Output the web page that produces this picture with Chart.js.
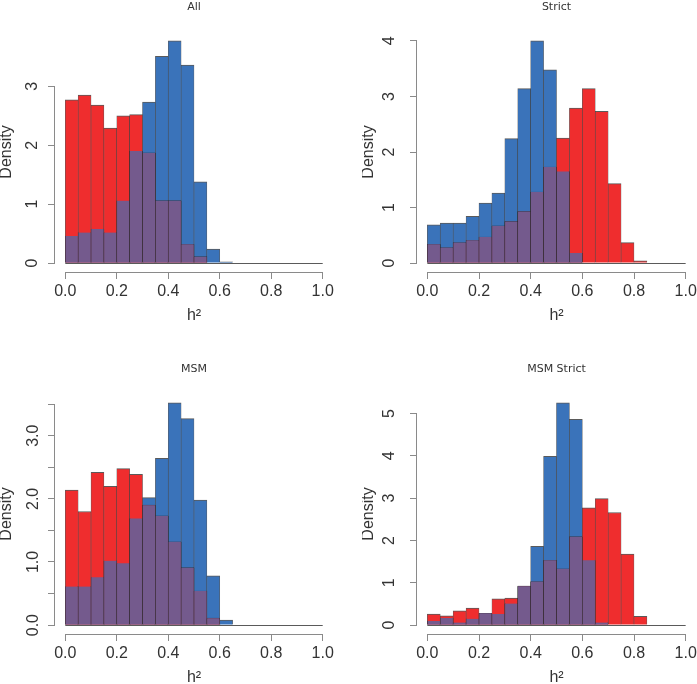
<!DOCTYPE html>
<html>
<head>
<meta charset="utf-8">
<title>h2 density histograms</title>
<script src="https://cdn.jsdelivr.net/npm/chart.js@4.4.1/dist/chart.umd.min.js"></script>
<style>
  html, body { margin: 0; padding: 0; background: #fff; }
  body { width: 697px; height: 684px; position: relative; overflow: hidden; }
  canvas { position: absolute; }
</style>
</head>
<body>
<canvas id="chartAll" width="360" height="322" style="left:0px;top:0px"></canvas>
<canvas id="chartStrict" width="360" height="322" style="left:362px;top:0px"></canvas>
<canvas id="chartMsm" width="360" height="322" style="left:0px;top:362px"></canvas>
<canvas id="chartMsmStrict" width="360" height="322" style="left:362px;top:362px"></canvas>
<script>
// bin mid-points of h^2 (bins of width 0.05)
const binMids = [0.025, 0.075, 0.125, 0.175, 0.225, 0.275, 0.325, 0.375, 0.425, 0.475,
                 0.525, 0.575, 0.625, 0.675, 0.725, 0.775, 0.825, 0.875, 0.925, 0.975];
const xTicks = [0, 0.2, 0.4, 0.6, 0.8, 1.0];
const xLabels = ['0.0', '0.2', '0.4', '0.6', '0.8', '1.0'];

// densities
const allRed  = [2.77, 2.85, 2.68, 2.29, 2.50, 2.52, 1.87, 1.06, 1.06, 0.32, 0.11, 0, 0, 0, 0, 0, 0, 0, 0, 0];
const allBlue = [0.46, 0.52, 0.58, 0.52, 1.06, 1.90, 2.73, 3.51, 3.77, 3.36, 1.38, 0.24, 0.02, 0, 0, 0, 0, 0, 0, 0];
const allYTicks = [0, 1, 2, 3];
const allYLabels = ['0', '1', '2', '3'];

const strictRed  = [0.34, 0.28, 0.37, 0.41, 0.47, 0.67, 0.75, 0.93, 1.28, 1.73, 2.25, 2.79, 3.14, 2.73, 1.43, 0.37, 0.04, 0, 0, 0];
const strictBlue = [0.69, 0.72, 0.72, 0.84, 1.08, 1.26, 2.24, 3.14, 4.00, 3.48, 1.65, 0.18, 0, 0, 0, 0, 0, 0, 0, 0];
const strictYTicks = [0, 1, 2, 3, 4];
const strictYLabels = ['0', '1', '2', '3', '4'];

const msmRed  = [2.14, 1.80, 2.42, 2.20, 2.48, 2.39, 1.90, 1.73, 1.32, 0.91, 0.54, 0.11, 0, 0, 0, 0, 0, 0, 0, 0];
const msmBlue = [0.61, 0.61, 0.76, 1.02, 0.98, 1.69, 2.02, 2.64, 3.52, 3.27, 1.98, 0.78, 0.08, 0, 0, 0, 0, 0, 0, 0];
const msmYTicks = [0, 0.5, 1, 1.5, 2, 2.5, 3, 3.5];
const msmYLabels = ['0.0', '', '1.0', '', '2.0', '', '3.0', ''];

const msmStrictRed  = [0.26, 0.22, 0.34, 0.40, 0.28, 0.62, 0.64, 0.92, 1.03, 1.53, 1.33, 2.09, 2.77, 2.99, 2.66, 1.68, 0.21, 0, 0, 0];
const msmStrictBlue = [0.10, 0.17, 0.06, 0.15, 0.28, 0.26, 0.51, 0.92, 1.86, 3.99, 5.25, 4.86, 1.53, 0.06, 0, 0, 0, 0, 0, 0];
const msmStrictYTicks = [0, 1, 2, 3, 4, 5];
const msmStrictYLabels = ['0', '1', '2', '3', '4', '5'];

const RED = '#EF2D2E';
const BLUE = '#3A73BA';
const PURPLE = '#745A8D';
const EDGE = 'rgba(35,35,35,0.75)';
const AXIS = '#8a8a8a';
const TEXT = '#333333';
const SANS = "'Liberation Sans', Arial, sans-serif";

// R style axes: line only from first to last tick, plus the zero line of empty bins
const rAxes = {
  id: 'rAxes',
  afterDatasetsDraw(chart) {
    const { ctx, scales: { x, y } } = chart;
    const y0 = Math.round(y.getPixelForValue(0)) + 0.5;
    ctx.save();
    ctx.strokeStyle = '#5a5a5a';
    ctx.lineWidth = 1;
    ctx.beginPath();
    ctx.moveTo(x.getPixelForValue(xTicks[0]), y0);
    ctx.lineTo(x.getPixelForValue(xTicks[xTicks.length - 1]), y0);
    ctx.stroke();
    ctx.restore();
  },
  afterDraw(chart) {
    const { ctx, chartArea, scales: { x, y } } = chart;
    const xt = x.ticks, yt = y.ticks;
    const yb = Math.round(chartArea.bottom) + 0.5;
    const xl = Math.round(chartArea.left) - 0.5;
    ctx.save();
    ctx.strokeStyle = AXIS;
    ctx.lineWidth = 1;
    ctx.beginPath();
    ctx.moveTo(x.getPixelForValue(xt[0].value), yb);
    ctx.lineTo(x.getPixelForValue(xt[xt.length - 1].value), yb);
    ctx.moveTo(xl, y.getPixelForValue(yt[0].value));
    ctx.lineTo(xl, y.getPixelForValue(yt[yt.length - 1].value));
    ctx.stroke();
    ctx.restore();
  }
};

function makePanel(canvasId, title, red, blue, yTicks, yLabels, yTickPad, plotWidth) {
  const overlap = red.map((v, i) => Math.min(v, blue[i]));
  const top = Math.max(...red, ...blue);
  const canvas = document.getElementById(canvasId);

  return new Chart(canvas, {
    type: 'bar',
    data: {
      labels: binMids,
      datasets: [
        {
          label: 'overlap',
          data: overlap,
          backgroundColor: PURPLE,
          borderColor: EDGE,
          borderWidth: { left: 0.6, right: 0.6, top: 0, bottom: 0 },
          borderSkipped: false,
          order: 0
        },
        {
          label: 'red',
          data: red,
          backgroundColor: RED,
          borderColor: EDGE,
          borderWidth: { left: 0.6, right: 0.6, top: 1, bottom: 0 },
          borderSkipped: false,
          order: 1
        },
        {
          label: 'blue',
          data: blue,
          backgroundColor: BLUE,
          borderColor: EDGE,
          borderWidth: { left: 0.6, right: 0.6, top: 1, bottom: 0 },
          borderSkipped: false,
          order: 2
        }
      ]
    },
    options: {
      responsive: false,
      animation: false,
      devicePixelRatio: 1,
      grouped: false,
      barPercentage: 1,
      categoryPercentage: 1,
      layout: {
        padding: { left: 0, top: 0, bottom: 0, right: canvas.width - 55 - plotWidth }
      },
      plugins: {
        legend: { display: false },
        tooltip: { enabled: false },
        title: {
          display: true,
          text: title,
          fullSize: false,
          color: TEXT,
          font: { family: "'DejaVu Sans', sans-serif", size: 11, weight: 'normal', lineHeight: 1 },
          padding: { top: 2, bottom: 19 }
        }
      },
      scales: {
        x: {
          type: 'linear',
          min: -0.04,
          max: 1.04,
          offset: false,
          afterBuildTicks: s => { s.ticks = xTicks.map(v => ({ value: v })); },
          afterFit: s => { s.height = 50; },
          border: { display: false },
          grid: { display: true, offset: false, drawOnChartArea: false, drawTicks: true, tickLength: 7, color: AXIS },
          ticks: {
            autoSkip: false,
            maxRotation: 0,
            padding: 3,
            color: TEXT,
            font: { family: SANS, size: 16 },
            callback: (v, i) => xLabels[i]
          },
          title: {
            display: true,
            text: 'h²',
            color: TEXT,
            font: { family: SANS, size: 16, lineHeight: 0.8 },
            padding: 0
          }
        },
        y: {
          type: 'linear',
          min: -0.04 * top,
          max: 1.04 * top,
          afterBuildTicks: s => { s.ticks = yTicks.map(v => ({ value: v })); },
          afterFit: s => { s.width = 55; },
          border: { display: false },
          grid: { display: true, drawOnChartArea: false, drawTicks: true, tickLength: 7, color: AXIS },
          ticks: {
            autoSkip: false,
            minRotation: 90,
            maxRotation: 90,
            crossAlign: 'center',
            padding: yTickPad,
            color: TEXT,
            font: { family: SANS, size: 16 },
            callback: (v, i) => yLabels[i]
          },
          title: {
            display: true,
            text: 'Density',
            color: TEXT,
            font: { family: SANS, size: 16, lineHeight: 0.8 },
            padding: 0
          }
        }
      }
    },
    plugins: [rAxes]
  });
}

makePanel('chartAll', 'All', allRed, allBlue, allYTicks, allYLabels, 10.5, 278);
makePanel('chartStrict', 'Strict', strictRed, strictBlue, strictYTicks, strictYLabels, 16, 279);
makePanel('chartMsm', 'MSM', msmRed, msmBlue, msmYTicks, msmYLabels, 3.4, 278);
makePanel('chartMsmStrict', 'MSM Strict', msmStrictRed, msmStrictBlue, msmStrictYTicks, msmStrictYLabels, 16, 279);
</script>
</body>
</html>
